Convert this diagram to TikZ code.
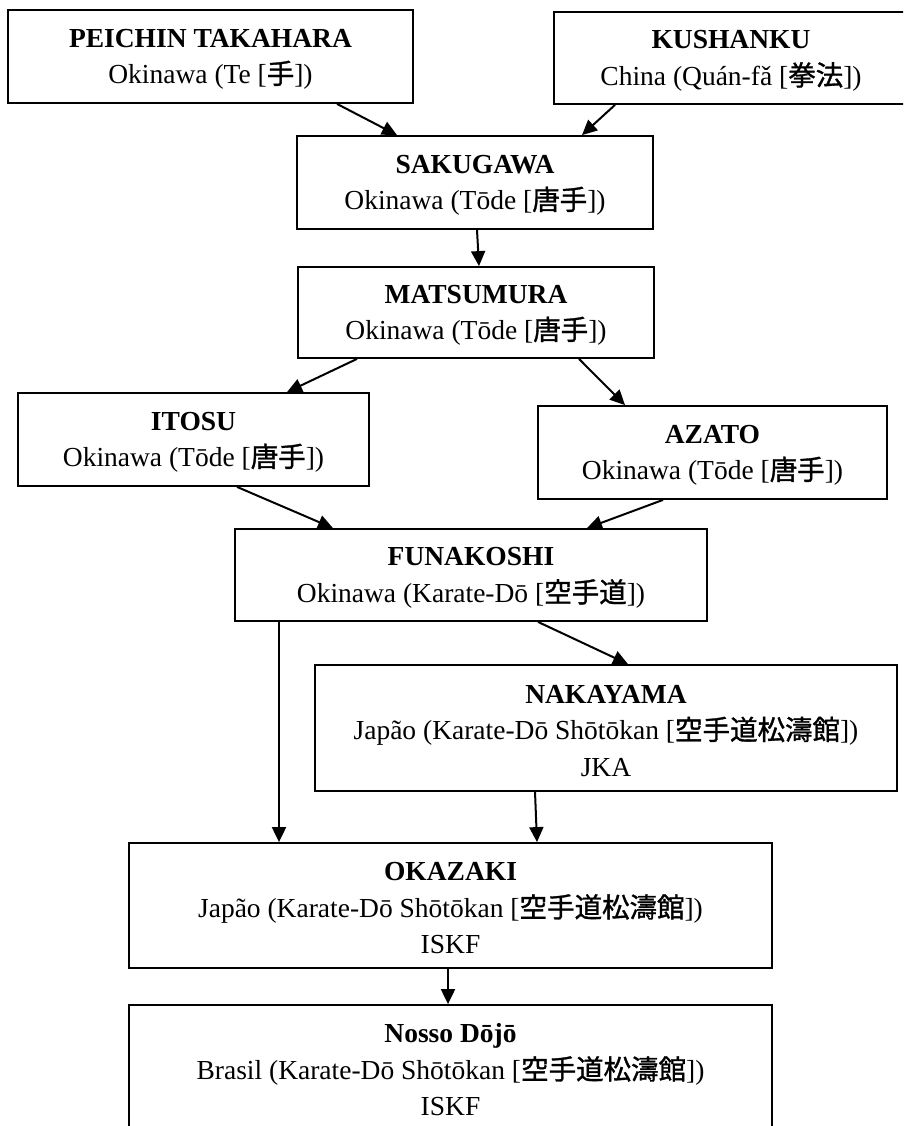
\documentclass[tikz,border=0pt]{standalone}
\usepackage{fontspec}
\setmainfont{Liberation Serif}
\newfontfamily\cjk[FakeBold=1.2]{Noto Sans CJK JP}
\usetikzlibrary{arrows.meta}
\newcommand{\jp}[1]{{\cjk #1}}
\newcommand{\tstrut}{\rule{0pt}{24pt}}
\begin{document}
\begin{tikzpicture}[x=1pt,y=-1pt,
  box/.style={draw, line width=1.8pt, align=center, inner sep=0pt, fill=white,
    font=\fontsize{27.5}{36.5}\selectfont},
  arr/.style={line width=2pt, -{Triangle[length=15pt,width=14pt]}}]
\useasboundingbox (0,0) rectangle (903,1126);
\clip (0,0) rectangle (903,1126);
\fill[white] (0,0) rectangle (903,1126);

\node[box, minimum width=405pt, minimum height=93pt] (peichin) at (210.5,56.5)
  {\tstrut\textbf{PEICHIN TAKAHARA}\\Okinawa (Te [\jp{手}])};
\node[box, minimum width=354pt, minimum height=92pt] (kushanku) at (731,58)
  {\tstrut\textbf{KUSHANKU}\\China (Quán-fǎ [\jp{拳法}])};
\node[box, minimum width=356pt, minimum height=93pt] (sakugawa) at (475,182.5)
  {\tstrut\textbf{SAKUGAWA}\\Okinawa (Tōde [\jp{唐手}])};
\node[box, minimum width=356pt, minimum height=91pt] (matsumura) at (476,312.5)
  {\tstrut\textbf{MATSUMURA}\\Okinawa (Tōde [\jp{唐手}])};
\node[box, minimum width=351pt, minimum height=93pt] (itosu) at (193.5,439.5)
  {\tstrut\textbf{ITOSU}\\Okinawa (Tōde [\jp{唐手}])};
\node[box, minimum width=349pt, minimum height=93pt] (azato) at (712.5,452.5)
  {\tstrut\textbf{AZATO}\\Okinawa (Tōde [\jp{唐手}])};
\node[box, minimum width=472pt, minimum height=92pt] (funakoshi) at (471,575)
  {\tstrut\textbf{FUNAKOSHI}\\Okinawa (Karate-Dō [\jp{空手道}])};
\node[box, minimum width=582pt, minimum height=126pt] (nakayama) at (606,728)
  {\tstrut\textbf{NAKAYAMA}\\Japão (Karate-Dō Shōtōkan [\jp{空手道松濤館}])\\JKA};
\node[box, minimum width=643pt, minimum height=125pt] (okazaki) at (450.5,905.5)
  {\tstrut\textbf{OKAZAKI}\\Japão (Karate-Dō Shōtōkan [\jp{空手道松濤館}])\\ISKF};
\node[box, minimum width=643pt, minimum height=125pt] (nosso) at (450.5,1067.5)
  {\tstrut\textbf{Nosso Dōjō}\\Brasil (Karate-Dō Shōtōkan [\jp{空手道松濤館}])\\ISKF};

\draw[arr] ([xshift=126.5pt]peichin.south) -- ([xshift=-78pt]sakugawa.north);
\draw[arr] ([xshift=-116pt]kushanku.south) -- ([xshift=107pt]sakugawa.north);
\draw[arr] ([xshift=2pt]sakugawa.south) -- ([xshift=3pt]matsumura.north);
\draw[arr] ([xshift=-119pt]matsumura.south) -- ([xshift=93.5pt]itosu.north);
\draw[arr] ([xshift=103pt]matsumura.south) -- ([xshift=-87.5pt]azato.north);
\draw[arr] ([xshift=43.5pt]itosu.south) -- ([xshift=-138pt]funakoshi.north);
\draw[arr] ([xshift=-49.5pt]azato.south) -- ([xshift=116pt]funakoshi.north);
\draw[arr] ([xshift=67pt]funakoshi.south) -- ([xshift=22pt]nakayama.north);
\draw[arr] ([xshift=-192pt]funakoshi.south) -- ([xshift=-171.5pt]okazaki.north);
\draw[arr] ([xshift=-71pt]nakayama.south) -- ([xshift=86.5pt]okazaki.north);
\draw[arr] ([xshift=-2.5pt]okazaki.south) -- ([xshift=-2.5pt]nosso.north);
\end{tikzpicture}
\end{document}
